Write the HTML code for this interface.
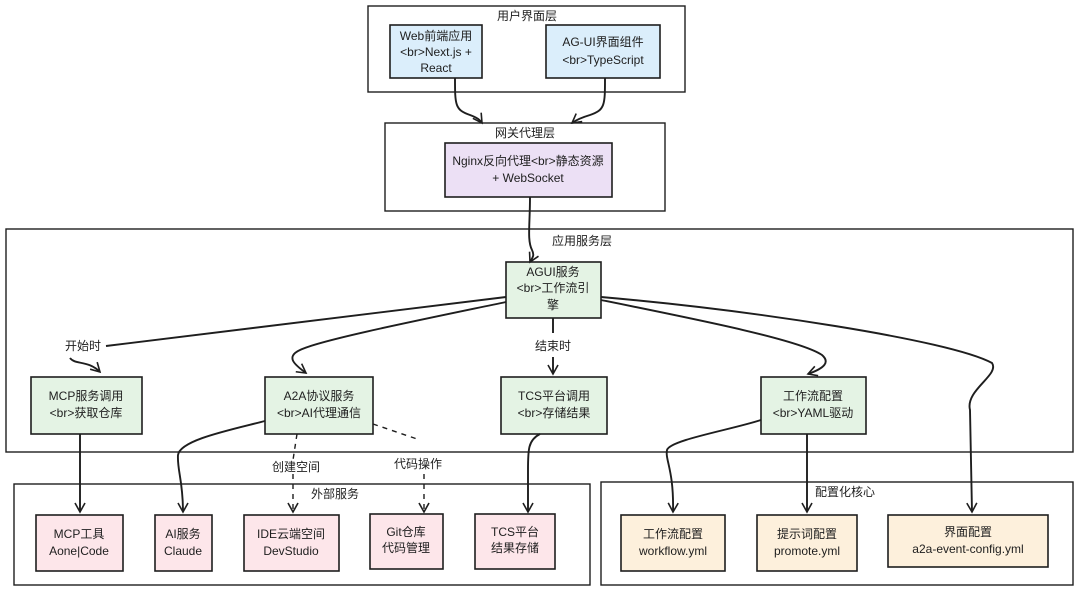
<!DOCTYPE html>
<html><head><meta charset="utf-8"><style>
body{margin:0;background:#fff;}
svg{display:block;}
text{font-family:"Liberation Sans","Noto Sans CJK SC",sans-serif;font-size:12px;fill:#1e1e1e;text-anchor:middle;}
.n{stroke:#1e1e1e;stroke-width:1.6;}
.g{fill:none;stroke:#1e1e1e;stroke-width:1.4;}
.a{fill:none;stroke:#1e1e1e;stroke-width:1.9;}
.d{fill:none;stroke:#1e1e1e;stroke-width:1.4;stroke-dasharray:5 5;}
</style></head><body>
<svg width="1080" height="592" viewBox="0 0 1080 592">
<defs><marker id="m" markerWidth="12" markerHeight="12" refX="10" refY="6" orient="auto" markerUnits="userSpaceOnUse"><path d="M1,1 L10,6 L1,11" fill="none" stroke="#1e1e1e" stroke-width="1.6"/></marker></defs>
<rect class="g" x="368" y="6" width="317" height="86"/>
<text x="527" y="20">用户界面层</text>
<rect class="g" x="385" y="123" width="280" height="88"/>
<text x="525" y="137">网关代理层</text>
<rect class="g" x="6" y="229" width="1067" height="223"/>
<text x="582" y="245">应用服务层</text>
<rect class="g" x="14" y="484" width="576" height="101"/>
<text x="335" y="498">外部服务</text>
<rect class="g" x="601" y="482" width="472" height="103"/>
<text x="845" y="496">配置化核心</text>

<rect class="n" x="390" y="25" width="92" height="53" fill="#dbeefb"/>
<text x="436" y="40">Web前端应用</text><text x="436" y="56">&lt;br&gt;Next.js +</text><text x="436" y="72">React</text>
<rect class="n" x="546" y="25" width="114" height="53" fill="#dbeefb"/>
<text x="603" y="46">AG-UI界面组件</text><text x="603" y="64">&lt;br&gt;TypeScript</text>
<rect class="n" x="445" y="143" width="167" height="54" fill="#ece0f5"/>
<text x="528" y="165">Nginx反向代理&lt;br&gt;静态资源</text><text x="528" y="182">+ WebSocket</text>

<rect class="n" x="506" y="262" width="95" height="56" fill="#e4f3e4"/>
<text x="553" y="276">AGUI服务</text><text x="553" y="292">&lt;br&gt;工作流引</text><text x="553" y="309">擎</text>
<rect class="n" x="31" y="377" width="111" height="57" fill="#e4f3e4"/>
<text x="86" y="400">MCP服务调用</text><text x="86" y="417">&lt;br&gt;获取仓库</text>
<rect class="n" x="265" y="377" width="108" height="57" fill="#e4f3e4"/>
<text x="319" y="400">A2A协议服务</text><text x="319" y="417">&lt;br&gt;AI代理通信</text>
<rect class="n" x="501" y="377" width="106" height="57" fill="#e4f3e4"/>
<text x="554" y="400">TCS平台调用</text><text x="554" y="417">&lt;br&gt;存储结果</text>
<rect class="n" x="761" y="377" width="105" height="57" fill="#e4f3e4"/>
<text x="813" y="400">工作流配置</text><text x="813" y="417">&lt;br&gt;YAML驱动</text>

<rect class="n" x="36" y="515" width="87" height="56" fill="#fde6ea"/>
<text x="79" y="538">MCP工具</text><text x="79" y="555">Aone|Code</text>
<rect class="n" x="155" y="515" width="57" height="56" fill="#fde6ea"/>
<text x="183" y="538">AI服务</text><text x="183" y="555">Claude</text>
<rect class="n" x="244" y="515" width="95" height="56" fill="#fde6ea"/>
<text x="291" y="538">IDE云端空间</text><text x="291" y="555">DevStudio</text>
<rect class="n" x="370" y="514" width="73" height="55" fill="#fde6ea"/>
<text x="406" y="536">Git仓库</text><text x="406" y="552">代码管理</text>
<rect class="n" x="475" y="514" width="80" height="55" fill="#fde6ea"/>
<text x="515" y="536">TCS平台</text><text x="515" y="552">结果存储</text>

<rect class="n" x="621" y="515" width="104" height="56" fill="#fdf0dc"/>
<text x="673" y="538">工作流配置</text><text x="673" y="555">workflow.yml</text>
<rect class="n" x="757" y="515" width="100" height="56" fill="#fdf0dc"/>
<text x="807" y="538">提示词配置</text><text x="807" y="555">promote.yml</text>
<rect class="n" x="888" y="515" width="160" height="52" fill="#fdf0dc"/>
<text x="968" y="536">界面配置</text><text x="968" y="553">a2a-event-config.yml</text>

<path class="a" d="M455,78 C455,105 455,110 470,115 C478,118 480,120 482,123" marker-end="url(#m)"/>
<path class="a" d="M605,78 C605,105 605,110 590,115 C580,118 576,120 572,123" marker-end="url(#m)"/>
<path class="a" d="M530,197 C530,225 527,240 532,250 C535,256 532,258 530,262" marker-end="url(#m)"/>
<path class="a" d="M506,297 L106,346"/>
<text x="83" y="350">开始时</text>
<path class="a" d="M70,358 C75,365 88,360 100,372" marker-end="url(#m)"/>
<path class="a" d="M506,302 C420,320 320,340 300,350 C285,357 295,365 306,373" marker-end="url(#m)"/>
<path class="a" d="M553,318 L553,333"/>
<text x="553" y="350">结束时</text>
<path class="a" d="M553,357 L553,374" marker-end="url(#m)"/>
<path class="a" d="M601,300 C700,320 800,340 822,355 C830,362 825,368 808,374" marker-end="url(#m)"/>
<path class="a" d="M601,297 C750,310 950,340 992,363 C1000,375 965,390 970,410 L972,512" marker-end="url(#m)"/>

<path class="a" d="M80,434 L80,512" marker-end="url(#m)"/>
<path class="a" d="M265,421 C230,430 180,440 178,455 C177,470 183,480 183,512" marker-end="url(#m)"/>
<path class="d" d="M297,434 L293,460 M293,474 L293,512" marker-end="url(#m)"/>
<text x="296" y="471">创建空间</text>
<path class="d" d="M373,424 L420,440"/>
<text x="418" y="468">代码操作</text>
<path class="d" d="M424,474 L424,512" marker-end="url(#m)"/>
<path class="a" d="M540,434 C528,440 528,450 528,470 L528,512" marker-end="url(#m)"/>
<path class="a" d="M761,420 C730,430 670,440 667,450 C665,460 674,470 673,512" marker-end="url(#m)"/>
<path class="a" d="M807,434 L807,512" marker-end="url(#m)"/>
</svg>
</body></html>
